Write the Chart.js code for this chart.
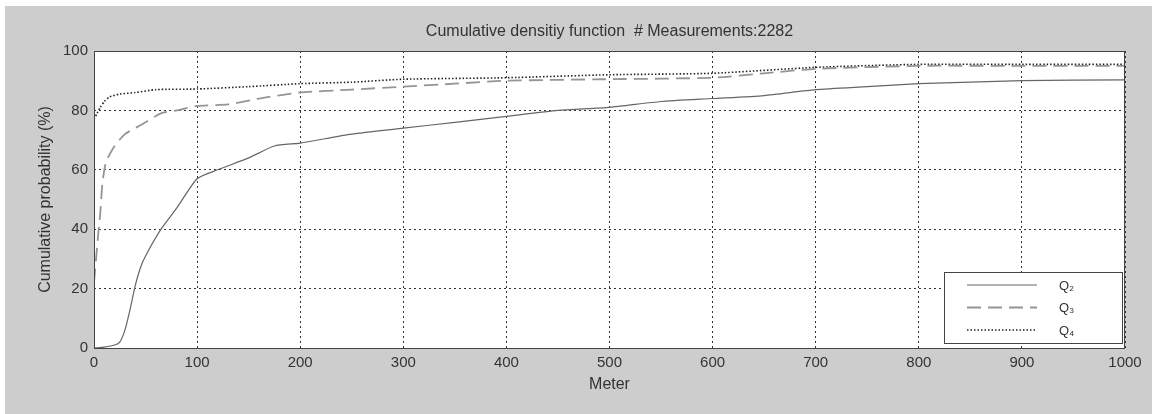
<!DOCTYPE html>
<html>
<head>
<meta charset="utf-8">
<script src="https://cdn.jsdelivr.net/npm/chart.js@4"></script>
<style>
  html, body { margin: 0; padding: 0; background: #fff; }
  #wrap { width: 1152px; height: 414px; }
</style>
</head>
<body>
<div id="wrap"><canvas id="cdfChart" width="1152" height="414"></canvas></div>
<script>
// Data (meters vs cumulative probability %)
const q2Meters = [0, 10, 20, 25, 30, 35, 40, 45, 50, 65, 80, 100, 120, 150, 175, 200, 250, 300, 350, 400, 450, 500, 550, 600, 650, 700, 750, 800, 850, 900, 1000];
const q2Values = [0, 0.3, 1, 2, 6, 13, 21, 27, 31, 40, 47, 57, 60, 64, 68, 69, 72, 74, 76, 78, 80, 81, 83, 84, 85, 87, 88, 89, 89.5, 90, 90.3];

const q3Meters = [0, 2, 4, 6, 8, 10, 12, 20, 30, 45, 65, 80, 100, 130, 160, 200, 250, 300, 350, 400, 500, 600, 650, 700, 800, 900, 1000];
const q3Values = [22, 30, 38, 45, 55, 60, 63, 68, 72, 75, 79, 80, 81.5, 82, 84, 86, 87, 88, 89, 90, 90.5, 91, 92.5, 94, 95, 95, 95];

const q4Meters = [0, 3, 6, 10, 15, 25, 40, 60, 100, 150, 200, 250, 300, 400, 500, 600, 700, 800, 900, 1000];
const q4Values = [77, 79, 81, 83, 84.5, 85.5, 86, 87, 87.2, 88, 89, 89.5, 90.5, 91, 92, 92.5, 94.5, 95.5, 95.5, 95.5];

const seriesLabels = ['Q\u2082', 'Q\u2083', 'Q\u2084'];
const xTicks = [0, 100, 200, 300, 400, 500, 600, 700, 800, 900, 1000];
const yTicks = [0, 20, 40, 60, 80, 100];

const chartTitle = 'Cumulative densitiy function  # Measurements:2282';
const xTitle = 'Meter';
const yTitle = 'Cumulative probability (%)';

const FONT = '"Liberation Sans", Arial, sans-serif';
const TEXT = '#333';

const toPoints = (xs, ys) => xs.map((x, i) => ({ x, y: ys[i] }));

// Gray figure background, white axes area, title and boxed legend
const matlabLook = {
    id: 'matlabLook',
    beforeDraw(chart) {
        const { ctx, chartArea: a } = chart;
        ctx.save();
        ctx.fillStyle = '#fff';
        ctx.fillRect(0, 0, chart.width, chart.height);
        ctx.fillStyle = '#cdcdcd';
        ctx.fillRect(5, 6, chart.width - 5, chart.height - 6);
        ctx.fillStyle = '#fff';
        ctx.fillRect(a.left, a.top, a.right - a.left, a.bottom - a.top);
        ctx.restore();
    },
    afterDraw(chart) {
        const { ctx, chartArea: a } = chart;
        ctx.save();
        // axes box
        ctx.strokeStyle = '#444';
        ctx.lineWidth = 1;
        ctx.strokeRect(a.left + 0.5, a.top + 0.5, a.right - a.left - 1, a.bottom - a.top);

        // title
        ctx.fillStyle = TEXT;
        ctx.font = '16px ' + FONT;
        ctx.textAlign = 'center';
        ctx.textBaseline = 'middle';
        ctx.fillText(chartTitle, (a.left + a.right) / 2, 32);

        // legend
        const bw = 178, bh = 71;
        const bx = a.right - 3 - bw, by = a.bottom - 5 - bh;
        ctx.fillStyle = '#fff';
        ctx.fillRect(bx, by, bw, bh);
        ctx.strokeStyle = '#444';
        ctx.strokeRect(bx + 0.5, by + 0.5, bw, bh);
        chart.data.datasets.forEach((ds, i) => {
            const ly = by + 13 + i * 22.5;
            ctx.beginPath();
            ctx.setLineDash(ds.borderDash || []);
            ctx.strokeStyle = ds.borderColor;
            ctx.lineWidth = ds.borderWidth;
            ctx.moveTo(bx + 23, ly);
            ctx.lineTo(bx + 93, ly);
            ctx.stroke();
            ctx.setLineDash([]);
            ctx.fillStyle = TEXT;
            ctx.font = '13px ' + FONT;
            ctx.textAlign = 'left';
            ctx.fillText(ds.label, bx + 115, ly + 1);
        });
        ctx.restore();
    }
};

const ctx = document.getElementById('cdfChart').getContext('2d');

new Chart(ctx, {
    type: 'line',
    data: {
        datasets: [
            {
                label: seriesLabels[0],
                data: toPoints(q2Meters, q2Values),
                borderColor: '#666',
                borderWidth: 1.2,
                pointRadius: 0,
                tension: 0.2
            },
            {
                label: seriesLabels[1],
                data: toPoints(q3Meters, q3Values),
                borderColor: '#959595',
                borderWidth: 1.8,
                borderDash: [14, 7],
                pointRadius: 0,
                tension: 0.2
            },
            {
                label: seriesLabels[2],
                data: toPoints(q4Meters, q4Values),
                borderColor: '#222',
                borderWidth: 1.6,
                borderDash: [1.5, 2],
                pointRadius: 0,
                tension: 0.2
            }
        ]
    },
    options: {
        responsive: false,
        animation: false,
        layout: { padding: { top: 51, right: 27, left: 0, bottom: 0 } },
        plugins: {
            legend: { display: false },
            title: { display: false },
            tooltip: { enabled: false }
        },
        scales: {
            x: {
                type: 'linear',
                min: 0,
                max: 1000,
                afterBuildTicks: s => { s.ticks = xTicks.map(v => ({ value: v })); },
                afterFit: s => { s.height = 66; },
                grid: {
                    color: '#333',
                    lineWidth: 1,
                    drawTicks: false
                },
                border: { display: false, dash: [2, 3] },
                ticks: {
                    color: TEXT,
                    font: { family: FONT, size: 15 },
                    padding: 6,
                    maxRotation: 0,
                    callback: v => String(v)
                },
                title: {
                    display: true,
                    text: xTitle,
                    color: TEXT,
                    font: { family: FONT, size: 16 },
                    padding: { top: 0, bottom: 20 }
                }
            },
            y: {
                min: 0,
                max: 100,
                afterBuildTicks: s => { s.ticks = yTicks.map(v => ({ value: v })); },
                afterFit: s => { s.width = 94; },
                grid: {
                    color: '#333',
                    lineWidth: 1,
                    drawTicks: false
                },
                border: { display: false, dash: [2, 3] },
                ticks: {
                    color: TEXT,
                    font: { family: FONT, size: 15 },
                    padding: 6,
                    callback: v => String(v)
                },
                title: {
                    display: true,
                    text: yTitle,
                    color: TEXT,
                    font: { family: FONT, size: 16 },
                    padding: { top: 36, bottom: 0 }
                }
            }
        }
    },
    plugins: [matlabLook]
});
</script>
</body>
</html>
